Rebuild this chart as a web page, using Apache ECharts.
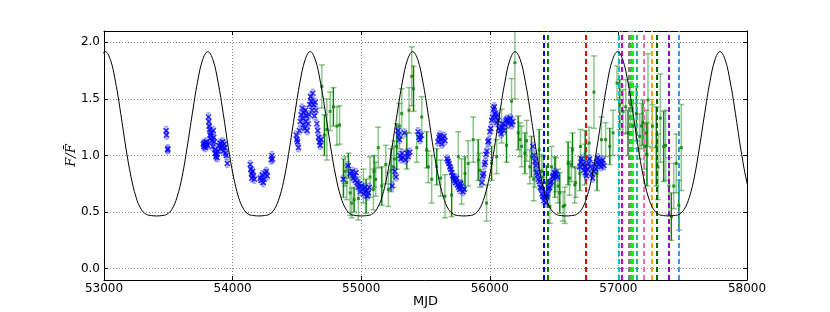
<!DOCTYPE html>
<html><head><meta charset="utf-8">
<script src="https://cdn.jsdelivr.net/npm/echarts@6/dist/echarts.min.js"></script>
<style>html,body{margin:0;padding:0;background:#fff}#c{width:830px;height:312px}</style>
</head><body><div id="c"></div>
<script>
// ---------------- data ----------------
const xTickValues = [53000, 54000, 55000, 56000, 57000, 58000];
const yTickValues = [0.0, 0.5, 1.0, 1.5, 2.0];

// model curve: peak dates and one-cycle profile (days after peak, F/Fbar)
const curvePeaks = [52213, 53010, 53807, 54603, 55400, 56197, 56994, 57790];
const curveOffsets = [0, 40, 80, 120, 159, 199, 239, 279, 319, 359, 398, 438, 478, 518, 558, 598, 637, 677, 717, 757];
const curveValues = [1.918, 1.846, 1.648, 1.372, 1.076, 0.818, 0.632, 0.525, 0.480, 0.469, 0.466, 0.469, 0.480, 0.525, 0.632, 0.818, 1.076, 1.372, 1.648, 1.846];

// blue points
const blueMjd = [
  53483,53486,53495,53497,
  53772,53776,53780,53785,53788,53795,53800,53806,53812,53815,53818,53821,53825,53828,53832,53838,53845,53850,53853,53857,53862,53866,53870,53875,53881,53886,53895,53902,53908,53915,53922,53928,53935,53940,53946,53951,53959,
  54137,54141,54146,54150,54156,54161,54170,54215,54222,54230,54238,54245,54254,54262,54270,54300,54305,54310,
  54495,54500,54505,54512,54520,54526,54532,54540,54545,54549,54555,54560,54565,54570,54575,54580,54588,54595,54600,54606,54612,54618,54624,54630,54636,54642,54648,54655,54662,54668,54675,54682,54688,
  54860,54898,54915,54930,54938,54945,54953,54960,54968,54976,54985,54992,55000,55010,55020,55030,55040,55048,55055,55062,
  55240,55262,55272,55286,55292,55298,55302,55310,55318,55326,55336,55345,55355,55365,55378,55442,55450,55458,55465,
  55597,55605,55612,55620,55628,55636,55645,55652,
  55667,55675,55682,55690,55697,55705,55712,55720,55728,55735,55742,55750,55758,55765,55772,55780,55790,55800,
  55939,55945,55952,55958,55965,55970,55978,55985,55992,56000,56008,56015,56022,56028,56035,56040,56046,56052,56058,56065,56072,56080,56088,56095,56102,56110,56118,56126,56134,56142,56150,56160,56170,56180,
  56335,56345,56352,56360,56366,56372,56378,56385,56392,56400,56406,56413,56420,56428,56436,56443,56450,56458,56465,56472,56480,56488,56495,56503,56510,56518,56525,
  56700,56708,56716,56724,56731,56738,56745,56752,56760,56768,56776,56784,56792,56800,56808,56816,56824,56832,56840,56848,56856,56864,56872,56880,56888
];
const blueVal = [
  1.22,1.18,1.05,1.06,
  1.10,1.08,1.11,1.09,1.07,1.12,1.10,1.09,1.34,1.30,1.26,1.23,1.18,1.15,1.20,1.13,1.08,1.22,1.16,1.12,1.05,1.02,0.99,1.01,0.98,1.04,1.09,1.11,1.06,1.08,1.12,1.04,1.10,1.07,1.02,1.00,0.93,
  0.92,0.88,0.84,0.80,0.86,0.82,0.79,0.80,0.78,0.83,0.76,0.79,0.84,0.86,0.82,0.96,1.00,0.97,
  1.18,1.14,1.12,1.07,1.22,1.30,1.36,1.42,1.33,1.27,1.38,1.24,1.40,1.30,1.35,1.22,1.28,1.36,1.45,1.52,1.48,1.40,1.55,1.45,1.35,1.47,1.40,1.28,1.22,1.16,1.12,1.09,1.14,
  0.79,0.91,0.84,0.86,0.80,0.82,0.78,0.85,0.76,0.72,0.75,0.68,0.73,0.70,0.66,0.72,0.69,0.64,0.67,0.72,
  0.73,0.86,0.81,1.22,1.18,1.14,1.00,0.97,1.02,0.98,1.20,0.96,1.02,0.99,1.03,1.21,1.16,1.14,1.18,
  1.12,1.16,1.18,1.14,1.10,1.15,1.17,1.13,
  0.97,0.95,0.93,0.90,0.88,0.85,0.82,0.80,0.78,0.76,0.80,0.74,0.72,0.70,0.75,0.73,0.68,0.70,
  0.76,0.82,0.84,0.92,0.94,1.01,1.04,1.12,1.13,1.21,1.24,1.31,1.34,1.41,1.43,1.37,1.34,1.29,1.36,1.31,1.24,1.22,1.19,1.25,1.28,1.22,1.27,1.31,1.32,1.28,1.31,1.33,1.27,1.30,
  1.08,1.00,0.95,0.91,0.85,0.83,0.79,0.77,0.72,0.71,0.66,0.64,0.60,0.63,0.58,0.64,0.66,0.71,0.72,0.76,0.77,0.81,0.82,0.85,0.84,0.83,0.81,
  0.90,0.94,0.97,0.92,0.87,0.90,0.85,0.82,0.88,0.93,0.97,0.90,0.84,0.80,0.86,0.92,0.88,0.94,0.98,0.92,0.95,0.90,0.93,0.96,0.91
];
const blueErr = 0.035;

// green points with error bars
const greenMjd = [
  54694,54714,54733,54759,54784,54811,54832,54862,54875,54888,
  54901,54914,54927,54945,54978,55017,55038,55069,55095,55100,
  55113,55133,55160,55191,55211,55232,55250,55258,55276,55297,
  55315,55354,55372,55393,55407,55432,55471,55509,55522,55548,
  55587,55618,55651,55703,55755,55781,55807,55832,55871,55910,
  55923,55975,56014,56053,56092,56130,56169,56195,56221,56234,
  56247,56273,56286,56311,56324,56342,56350,56384,56402,56415,
  56441,56467,56480,56506,56513,56531,56544,56570,56583,56609,
  56620,56635,56643,56661,56668,56700,56705,56738,56742,56772,
  56810,56834,56868,56901,56933,56958,56989,57010,57036,57057,
  57075,57094,57114,57140,57165,57179,57191,57204,57217,57222,
  57230,57264,57295,57308,57326,57352,57367,57393,57412,57430,
  57450,57470,57489
];
const greenVal = [
  1.61,1.18,1.23,1.39,1.43,1.26,1.27,0.80,0.86,0.76,
  0.91,0.67,0.58,0.61,0.62,0.73,0.64,0.81,0.70,0.86,
  0.79,1.07,0.73,0.92,0.70,0.87,0.90,0.97,1.08,1.26,
  1.37,1.04,1.40,1.70,1.59,1.07,1.34,1.05,0.90,0.79,
  0.90,0.80,0.64,0.65,0.99,0.77,0.84,0.93,1.14,0.96,
  0.87,0.58,0.93,0.99,1.26,1.09,1.48,1.82,1.20,1.14,
  1.08,1.02,1.13,0.90,0.99,0.79,0.87,1.05,0.86,0.81,
  0.76,0.55,0.90,0.81,0.83,0.73,0.67,0.55,0.56,0.93,
  0.80,0.92,1.05,0.74,0.76,0.84,1.08,0.92,1.02,1.11,
  1.56,0.84,1.14,1.14,1.08,1.20,1.64,1.45,1.39,1.43,
  1.20,1.45,1.26,1.37,1.17,1.26,1.29,1.08,1.20,1.01,
  1.49,1.26,1.08,0.90,1.33,1.08,1.09,0.73,0.46,0.73,
  0.93,0.56,1.07
];
const greenErr = [
  0.19,0.18,0.27,0.17,0.17,0.17,0.17,0.17,0.13,0.15,
  0.11,0.20,0.13,0.11,0.19,0.15,0.15,0.18,0.18,0.14,
  0.15,0.18,0.17,0.17,0.15,0.19,0.18,0.16,0.20,0.20,
  0.22,0.16,0.20,0.26,0.20,0.13,0.18,0.16,0.14,0.21,
  0.16,0.16,0.19,0.19,0.22,0.20,0.15,0.20,0.20,0.18,
  0.15,0.16,0.15,0.15,0.15,0.15,0.20,0.32,0.15,0.15,
  0.18,0.18,0.18,0.15,0.18,0.19,0.15,0.18,0.15,0.18,
  0.15,0.15,0.18,0.18,0.15,0.15,0.18,0.13,0.16,0.19,
  0.15,0.15,0.15,0.16,0.13,0.15,0.15,0.18,0.20,0.14,
  0.32,0.15,0.20,0.15,0.16,0.20,0.15,0.22,0.19,0.24,
  0.20,0.20,0.20,0.24,0.20,0.20,0.20,0.20,0.20,0.28,
  0.41,0.19,0.35,0.29,0.39,0.31,0.31,0.25,0.21,0.20,
  0.26,0.22,0.38
];

// vertical event lines
const eventMjd = [56420, 56451, 56746, 57006, 57027, 57084, 57099, 57111, 57142, 57198, 57259, 57297, 57388, 57466];
const eventColors = ['#0000ff','#008000','#ff0000','#00bfbf','#bf00bf','#808080','#33cc33','#00ff00','#20b2aa','#ff69b4','#ffa500','#006400','#9400d3','#3399ff'];

// ---------------- build ----------------
const curveData = [];
curvePeaks.forEach(p => curveOffsets.forEach((o, i) => curveData.push([p + o, curveValues[i]])));
const blueData = blueMjd.map((m, i) => [m, blueVal[i], blueErr]);
const greenData = greenMjd.map((m, i) => [m, greenVal[i], greenErr[i]]);
const greenDark = greenData.filter((d, i) => i % 3 === 1);

function errRender(color, capHalf, lw) {
  return function (params, api) {
    const x = api.value(0), y = api.value(1), e = api.value(2);
    const t = api.coord([x, y + e]), b = api.coord([x, y - e]);
    const s = { stroke: color, lineWidth: lw, fill: null };
    const ch = [{ type: 'line', shape: { x1: t[0], y1: t[1], x2: b[0], y2: b[1] }, style: s }];
    if (capHalf > 0) {
      ch.push({ type: 'line', shape: { x1: t[0] - capHalf, y1: t[1], x2: t[0] + capHalf, y2: t[1] }, style: s });
      ch.push({ type: 'line', shape: { x1: b[0] - capHalf, y1: b[1], x2: b[0] + capHalf, y2: b[1] }, style: s });
    }
    return { type: 'group', children: ch };
  };
}

const fmtY = v => yTickValues.some(t => Math.abs(t - v) < 1e-6) ? v.toFixed(1) : '';
const fmtX = v => xTickValues.indexOf(v) >= 0 ? String(v) : '';
const gridLine = { show: true, showMinLine: false, showMaxLine: false, lineStyle: { color: '#8a8a8a', type: [1, 2], width: 1 } };
const font = 'DejaVu Sans';

const chart = echarts.init(document.getElementById('c'), null, { renderer: 'canvas' });
chart.setOption({
  animation: false,
  backgroundColor: '#ffffff',
  grid: { left: 104, right: 83, top: 31, bottom: 32, show: false, containLabel: false, outerBoundsMode: 'none' },
  xAxis: [
    { type: 'value', min: xTickValues[0], max: xTickValues[xTickValues.length - 1], interval: 1000, position: 'bottom',
      axisLine: { show: true, onZero: false, lineStyle: { color: '#000', width: 1 } },
      axisTick: { show: true, inside: true, length: 4, lineStyle: { color: '#000' } },
      axisLabel: { color: '#000', fontSize: 12, fontFamily: font, margin: 3, formatter: fmtX },
      splitLine: gridLine,
      name: 'MJD', nameLocation: 'middle', nameGap: 15, nameMoveOverlap: false,
      nameTextStyle: { color: '#000', fontSize: 13, fontFamily: font } },
    { type: 'value', min: xTickValues[0], max: xTickValues[xTickValues.length - 1], interval: 1000, position: 'top',
      axisLine: { show: true, onZero: false, lineStyle: { color: '#000', width: 1 } },
      axisTick: { show: true, inside: true, length: 4, lineStyle: { color: '#000' } },
      axisLabel: { show: false }, splitLine: { show: false } }
  ],
  yAxis: [
    { type: 'value', min: -0.1, max: 2.1, splitNumber: 5, position: 'left',
      axisLine: { show: true, onZero: false, lineStyle: { color: '#000', width: 1 } },
      axisTick: { show: true, inside: true, length: 4, lineStyle: { color: '#000' } },
      axisLabel: { color: '#000', fontSize: 12, fontFamily: font, margin: 4, formatter: fmtY },
      splitLine: gridLine,
      name: 'F/F\u0304', nameLocation: 'middle', nameRotate: 90, nameGap: 26, nameMoveOverlap: false,
      nameTextStyle: { color: '#000', fontSize: 13, fontFamily: 'DejaVu Serif', fontStyle: 'italic' } },
    { type: 'value', min: -0.1, max: 2.1, splitNumber: 5, position: 'right',
      axisLine: { show: true, onZero: false, lineStyle: { color: '#000', width: 1 } },
      axisTick: { show: true, inside: true, length: 4, lineStyle: { color: '#000' } },
      axisLabel: { show: false }, splitLine: { show: false } }
  ],
  series: [
    { type: 'custom', name: 'greenErrLight', clip: true, silent: true, z: 3,
      renderItem: errRender('rgba(0,128,0,0.45)', 3, 1.5), data: greenData },
    { type: 'custom', name: 'greenErrDark', clip: true, silent: true, z: 4,
      renderItem: errRender('#008000', 0, 1.2), data: greenDark },
    { type: 'scatter', name: 'green', symbol: 'rect', symbolSize: 3, silent: true, z: 5,
      itemStyle: { color: '#008000' }, data: greenData },
    { type: 'custom', name: 'blueErr', clip: true, silent: true, z: 6,
      renderItem: errRender('rgba(60,60,255,0.4)', 2, 1.5), data: blueData },
    { type: 'scatter', name: 'blue', symbol: 'path://M0 0L10 10M10 0L0 10', symbolSize: 5, silent: true, z: 7,
      itemStyle: { color: 'rgba(0,0,0,0)', borderColor: '#0000ff', borderWidth: 1.6 }, data: blueData },
    { type: 'line', name: 'model', showSymbol: false, symbol: 'none', smooth: 0.4, clip: true, silent: true, z: 8,
      lineStyle: { color: '#000', width: 1 }, data: curveData },
    { type: 'scatter', name: 'events', data: [], silent: true, z: 9,
      markLine: { silent: true, symbol: ['none', 'none'], label: { show: false }, animation: false,
        lineStyle: { type: [5, 3], width: 2 },
        data: eventMjd.map((m, i) => ({ xAxis: m, lineStyle: { color: eventColors[i], type: [5, 3], width: 2 } })) } }
  ]
});
</script>
</body></html>
